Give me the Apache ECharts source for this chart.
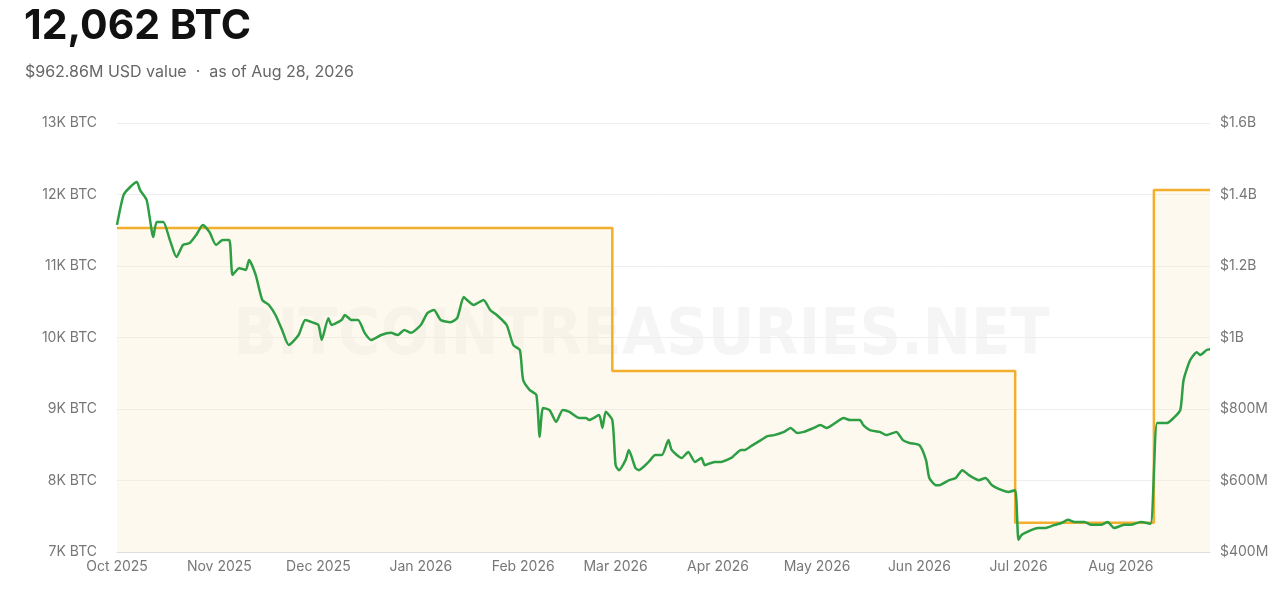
<!DOCTYPE html>
<html>
<head>
<meta charset="utf-8">
<script src="https://cdn.jsdelivr.net/npm/echarts@6/dist/echarts.min.js"></script>
<style>
  html, body { margin: 0; padding: 0; background: #fff; }
  #main { width: 1283px; height: 590px; }
</style>
</head>
<body>
<div id="main"></div>
<script>
var startDate = Date.UTC(2025, 9, 1);
var DAY = 86400000;

// USD value (millions) sampled by day offset from Oct 1, 2025
var usdDays = [0,2,4,6,7,9,11,12,14,16,18,20,22,24,26,28,30,32,34,35,37,39,40,42,44,46,48,50,52,55,57,59,61,62,64,65,68,69,71,73,75,77,80,83,85,87,89,92,94,96,98,101,103,105,106,108,111,113,115,118,120,122,123,125,127,128,129,131,133,135,137,140,142,143,146,147,148,150,151,152,154,155,157,158,161,163,165,167,168,171,173,175,177,178,181,183,186,187,189,190,192,195,197,199,202,204,206,208,211,213,215,218,220,222,225,226,228,231,233,236,238,240,243,245,246,248,249,252,254,256,258,261,263,265,268,270,272,273,274,277,279,281,284,286,288,290,293,295,298,300,302,305,307,310,313,315,318,320,322,323,325,327,328,330,331];
var usdValues = [1315,1399,1421,1435,1412,1384,1281,1323,1323,1273,1225,1259,1264,1287,1315,1295,1259,1273,1273,1175,1194,1189,1217,1175,1105,1091,1063,1021,979,1007,1049,1043,1035,993,1054,1035,1049,1063,1049,1049,1013,993,1007,1013,1007,1021,1013,1035,1068,1077,1049,1043,1054,1113,1105,1091,1105,1077,1063,1035,979,965,881,853,839,722,803,797,764,797,792,775,775,769,783,747,792,769,643,629,657,685,635,629,652,671,671,713,685,663,680,652,663,643,652,652,663,671,685,685,696,713,724,727,736,747,733,736,747,755,747,764,775,769,769,755,741,736,727,736,713,705,699,657,607,587,587,601,607,629,615,601,607,587,573,568,573,434,448,462,467,467,476,481,490,484,484,476,476,484,467,476,476,484,479,761,761,775,797,881,937,959,951,965,967];

// BTC holdings steps
var btcDays = [0, 150, 272, 314, 331];
var btcValues = [11530, 9530, 7410, 12062, 12062];

var months = ['Jan','Feb','Mar','Apr','May','Jun','Jul','Aug','Sep','Oct','Nov','Dec'];

function toSeries(days, vals) {
    return days.map(function (d, i) { return [startDate + d * DAY, vals[i]]; });
}

var myChart = echarts.init(document.getElementById('main'));

option = {
    animation: false,
    textStyle: { fontFamily: 'Inter, "Noto Sans", sans-serif' },
    title: [{
        text: '12,062 BTC',
        left: 19, top: 1,
        textStyle: { fontSize: 41, fontWeight: 'bold', color: '#111' }
    }, {
        text: '$962.86M USD value  ·  as of Aug 28, 2026',
        left: 20, top: 59,
        textStyle: { fontSize: 16, fontWeight: 'normal', color: '#666' }
    }],
    graphic: [{
        type: 'text',
        left: 'center', top: 305,
        style: {
            text: 'BITCOINTREASURIES.NET',
            font: 'bold 64px "DejaVu Sans Condensed", sans-serif',
            fill: 'rgba(0,0,0,0.04)'
        },
        z: 0
    }],
    grid: { left: 117, right: 73, top: 123, bottom: 38 },
    xAxis: {
        type: 'time',
        min: startDate,
        max: startDate + 331 * DAY,
        minInterval: 28 * DAY,
        maxInterval: 31 * DAY,
        axisLine: { show: true, lineStyle: { color: '#ddd' } },
        axisTick: { show: false },
        splitLine: { show: false },
        axisLabel: {
            color: '#777', fontSize: 14, hideOverlap: false,
            formatter: function (v) {
                var d = new Date(v);
                return months[d.getUTCMonth()] + ' ' + d.getUTCFullYear();
            }
        }
    },
    yAxis: [{
        type: 'value',
        min: 7000, max: 13000, interval: 1000,
        axisLine: { show: false },
        axisTick: { show: false },
        splitLine: { lineStyle: { color: '#eee' } },
        axisLabel: {
            color: '#777', fontSize: 14, margin: 20,
            formatter: function (v) { return (v / 1000) + 'K BTC'; }
        }
    }, {
        type: 'value',
        min: 400, max: 1600, interval: 200,
        axisLine: { show: false },
        axisTick: { show: false },
        splitLine: { show: false },
        axisLabel: {
            color: '#777', fontSize: 14, margin: 10,
            formatter: function (v) { return v >= 1000 ? '$' + (v / 1000) + 'B' : '$' + v + 'M'; }
        }
    }],
    series: [{
        type: 'line',
        name: 'BTC',
        yAxisIndex: 0,
        step: 'end',
        symbol: 'none',
        data: toSeries(btcDays, btcValues),
        lineStyle: { color: '#f3ae2b', width: 2.5 },
        areaStyle: { color: 'rgba(253,236,200,0.45)', origin: 'start' },
        z: 2
    }, {
        type: 'line',
        name: 'USD',
        yAxisIndex: 1,
        symbol: 'none',
        smooth: 0.2,
        data: toSeries(usdDays, usdValues),
        lineStyle: { color: '#2e9e44', width: 2.5 },
        z: 3
    }]
};

myChart.setOption(option);
</script>
</body>
</html>
